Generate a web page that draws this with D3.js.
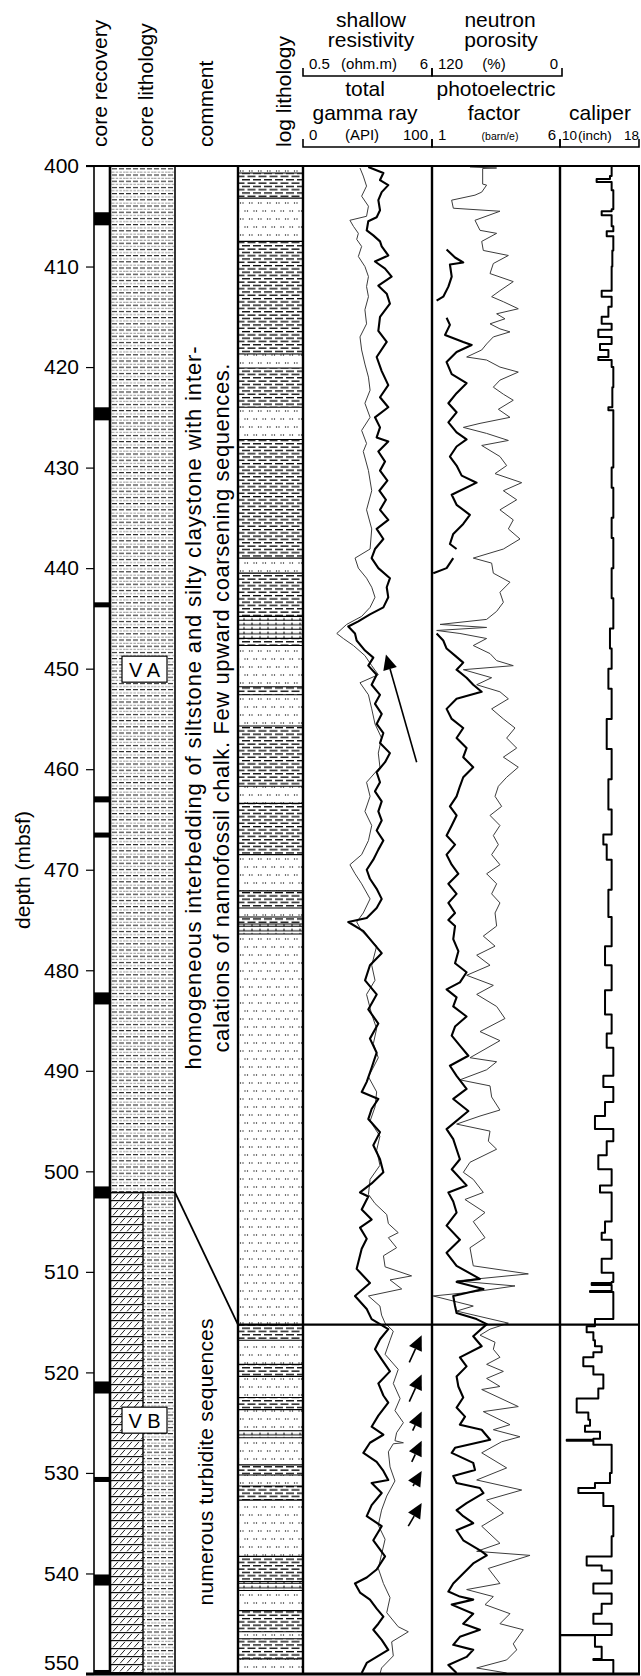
<!DOCTYPE html>
<html>
<head>
<meta charset="utf-8">
<script src="https://cdn.jsdelivr.net/npm/d3@7"></script>
<style>
  body { margin: 0; background: #fff; }
  svg { display: block; font-family: "Liberation Sans", Arial, Helvetica, sans-serif; }
</style>
</head>
<body>
<svg id="chart" width="641" height="1676"></svg>
<script>
// ---------------- data ----------------
const depthTicks = [400, 410, 420, 430, 440, 450, 460, 470, 480, 490, 500, 510, 520, 530, 540, 550];

// core breaks in the recovery column [top, base] (mbsf)
const coreBreaks = [[404.6, 405.9], [424.0, 425.3], [443.4, 443.9], [462.7, 463.3], [466.3, 466.8],
  [482.2, 483.4], [501.5, 502.7], [520.9, 522.1], [530.4, 530.9], [540.1, 541.2], [549.6, 550.0]];

// lithostratigraphic units
const unitNames = ["V A", "V B"];
const unitTops = [400, 502.1];
const unitBases = [502.1, 550];
const logUnitBoundary = 515.25;

// log-derived lithology beds [top, base, type]
const logBeds = [
  [400.0, 400.7, "silt"], [400.7, 403.2, "clay"], [403.2, 407.5, "silt"], [407.5, 418.7, "clay"],
  [418.7, 420.1, "silt"], [420.1, 424.0, "clay"], [424.0, 427.2, "silt"], [427.2, 439.0, "clay"],
  [439.0, 440.5, "silt"], [440.5, 444.8, "clay"], [444.8, 447.0, "chalk"], [447.0, 447.7, "clay"],
  [447.7, 451.8, "silt"], [451.8, 452.6, "clay"], [452.6, 455.7, "silt"], [455.7, 461.7, "clay"],
  [461.7, 463.4, "silt"], [463.4, 468.5, "clay"], [468.5, 472.1, "silt"], [472.1, 473.8, "clay"],
  [473.8, 474.7, "silt"], [474.7, 475.4, "clay"], [475.4, 476.4, "chalk"], [476.4, 515.25, "silt"],
  [515.25, 516.8, "clay"], [516.8, 519.2, "silt"], [519.2, 520.4, "clay"], [520.4, 522.5, "silt"],
  [522.5, 523.7, "clay"], [523.7, 525.8, "silt"], [525.8, 526.5, "chalk"], [526.5, 529.2, "silt"],
  [529.2, 530.2, "clay"], [530.2, 531.3, "silt"], [531.3, 532.7, "clay"], [532.7, 538.3, "silt"],
  [538.3, 540.8, "clay"], [540.8, 541.7, "chalk"], [541.7, 543.7, "silt"], [543.7, 545.8, "clay"],
  [545.8, 546.5, "silt"], [546.5, 548.5, "clay"], [548.5, 550.0, "silt"]
];

const commentVA = ["homogeneous interbedding of siltstone and silty claystone with inter-",
                   "calations of nannofossil chalk. Few upward coarsening sequences."];
const commentVB = "numerous turbidite sequences";

// total gamma ray [depth, API]
const gammaRay = [
  [400.1,50.6],[400.7,62.3],[401.4,59.7],[401.9,66.1],[402.6,61.0],[403.4,58.4],[404.4,59.7],[405.1,57.1],
  [405.5,50.6],[406.4,49.4],[406.9,54.5],[407.5,59.7],[408.0,61.0],[408.9,66.1],[409.5,55.8],[410.2,63.6],
  [411.0,68.7],[411.9,58.4],[412.7,64.9],[413.7,67.4],[415.0,59.7],[416.4,58.4],[417.5,64.9],[419.0,57.1],
  [420.4,61.0],[421.8,66.1],[423.0,59.7],[424.0,66.1],[425.0,55.8],[426.0,59.7],[427.0,57.1],[427.4,66.1],
  [428.4,58.4],[429.4,63.6],[430.3,59.7],[431.3,65.4],[432.3,59.2],[433.2,64.3],[434.2,59.7],[435.2,66.1],
  [436.1,57.1],[437.1,62.3],[438.1,55.8],[439.0,53.2],[440.0,58.4],[441.0,67.4],[441.9,64.9],[442.9,66.1],
  [443.9,62.3],[444.6,51.9],[445.3,42.9],[445.8,35.1],[446.5,40.3],[447.2,41.6],[448.2,48.1],[448.9,54.5],
  [449.7,50.6],[450.6,57.1],[451.6,53.2],[452.6,59.7],[453.5,55.8],[454.5,61.0],[455.5,57.1],[456.4,62.3],
  [457.4,59.7],[458.4,67.4],[459.3,63.6],[460.3,57.1],[461.3,59.7],[462.2,55.8],[463.2,61.0],[464.2,58.4],
  [465.1,61.0],[466.1,57.1],[467.1,62.3],[468.0,58.4],[469.0,54.5],[470.0,49.4],[470.9,51.9],[471.9,57.1],
  [472.9,61.0],[473.8,57.1],[474.8,49.4],[475.2,35.1],[476.1,46.8],[477.1,53.2],[478.3,61.0],[479.5,51.9],
  [481.0,48.1],[482.4,57.1],[483.9,50.6],[485.3,58.4],[486.8,51.9],[488.2,57.1],[489.7,53.2],[491.1,49.4],
  [492.1,45.5],[492.8,58.4],[493.8,53.2],[494.8,50.6],[496.1,59.7],[497.4,54.5],[498.8,59.7],[500.1,62.3],
  [501.2,53.2],[502.1,44.2],[502.5,50.6],[503.8,45.5],[504.8,53.2],[505.6,44.2],[506.7,49.4],[507.7,45.5],
  [509.7,41.6],[511.1,51.9],[512.4,40.3],[513.7,49.4],[514.7,53.2],[515.7,66.1],[516.7,59.7],[517.7,55.8],
  [518.7,61.0],[519.9,67.4],[521.1,58.4],[522.3,62.3],[523.0,66.1],[524.3,58.4],[525.4,53.2],[526.2,62.3],
  [527.0,51.9],[528.0,46.8],[528.9,57.1],[529.8,62.3],[530.7,66.1],[531.0,53.2],[532.0,61.0],[533.2,53.2],
  [534.3,49.4],[535.3,61.0],[536.7,54.5],[538.3,63.6],[539.6,57.1],[540.4,49.4],[541.0,40.3],[541.9,44.2],
  [542.6,51.9],[543.5,57.1],[544.3,62.3],[545.0,58.4],[545.6,54.5],[546.6,61.0],[547.6,66.1],[548.3,57.1],
  [548.9,49.4],[549.9,45.5]
];

// shallow resistivity [depth, ohm.m]
const shallowRes = [
  [400.2,2.93],[401.0,3.07],[402.0,3.21],[403.0,3.00],[404.0,3.29],[405.0,3.21],[405.4,2.50],[406.0,2.65],
  [406.7,2.86],[407.3,2.79],[408.0,3.00],[409.0,2.86],[410.0,3.14],[411.0,3.29],[412.0,3.21],[413.0,3.29],
  [414.3,3.14],[415.7,3.21],[417.0,2.93],[418.3,3.00],[419.7,3.14],[421.0,3.29],[422.3,3.36],[423.6,3.14],
  [425.0,3.36],[426.3,3.00],[427.6,3.21],[428.4,3.07],[430.3,3.29],[432.3,3.43],[434.2,3.21],[436.1,3.43],
  [438.1,3.36],[439.0,2.72],[440.0,2.86],[441.0,3.21],[441.9,3.43],[442.9,3.57],[443.9,3.36],[444.8,3.00],
  [445.6,2.36],[446.5,1.94],[447.0,2.22],[447.7,2.65],[448.7,3.14],[449.7,3.43],[450.6,3.71],[451.4,2.93],
  [452.6,3.29],[454.0,3.43],[455.5,3.57],[456.9,3.85],[458.4,3.71],[459.8,3.78],[461.3,3.21],[462.7,3.36],
  [464.2,3.14],[465.6,3.43],[467.1,3.29],[468.5,3.00],[469.5,2.50],[470.4,2.72],[471.4,3.00],[472.9,3.36],
  [474.3,3.07],[475.2,2.79],[476.1,3.00],[477.6,3.64],[479.5,3.43],[481.0,3.57],[482.4,3.21],[484.4,3.43],
  [485.8,3.64],[487.3,3.50],[488.7,3.71],[490.6,3.29],[492.1,3.64],[493.6,3.57],[495.0,3.36],[496.5,3.78],
  [497.9,3.64],[499.4,3.78],[500.8,3.36],[502.3,3.29],[503.2,3.57],[504.3,4.07],[505.2,4.14],[506.1,4.56],
  [506.6,4.14],[507.6,4.49],[508.4,3.93],[509.5,4.00],[510.4,5.13],[510.8,4.21],[511.7,4.71],[512.4,3.29],
  [513.4,3.78],[514.3,3.85],[515.1,4.00],[515.9,4.35],[516.8,4.21],[518.2,4.00],[519.7,4.56],[521.1,4.35],
  [522.6,4.64],[523.8,4.42],[525.0,4.78],[526.0,4.49],[526.8,4.42],[527.0,4.78],[527.1,4.35],[527.9,4.14],
  [529.4,4.21],[530.8,4.42],[532.3,4.07],[533.7,3.85],[535.2,3.71],[536.6,4.00],[538.1,3.85],[539.5,3.71],
  [541.0,3.93],[542.4,4.21],[543.9,4.07],[545.3,4.56],[545.8,4.99],[546.8,4.28],[548.2,4.35],[549.4,3.85],
  [550.0,3.78]
];

// photoelectric factor [depth, barn/e]; null marks a data gap
const photoFactor = [
  [408.3,1.57],[409.1,1.90],[409.6,2.22],[409.8,1.70],[411.0,1.77],[412.0,1.64],[413.0,1.44],[413.4,1.18],
  [414.2,null],
  [415.1,1.57],[415.8,1.70],[416.8,1.51],[417.5,2.22],[417.8,2.55],[418.5,1.96],[419.5,1.57],[420.7,1.77],
  [421.6,2.35],[422.6,1.96],[423.6,1.64],[424.5,1.96],[425.5,1.64],[426.5,1.96],[427.2,2.35],[427.9,1.96],
  [428.9,1.70],[429.8,1.96],[430.8,2.16],[431.5,2.74],[432.7,1.77],[433.7,1.96],[434.7,2.48],[435.6,2.22],
  [436.6,1.83],[437.6,1.70],[438.1,1.96],
  [438.5,null],
  [439.0,1.83],[440.0,1.57],[440.5,1.05],
  [443.0,null],
  [446.5,1.18],[447.2,1.44],[448.0,1.57],[448.7,1.90],[449.4,2.22],[450.1,1.96],[450.9,2.35],[451.6,2.61],
  [452.3,2.94],[453.0,1.96],[454.0,1.57],[455.0,1.77],[455.9,2.22],[456.9,1.96],[457.9,2.35],[458.8,2.22],
  [459.8,2.61],[460.8,2.22],[461.7,2.09],[462.7,1.96],[463.7,1.70],[464.6,1.96],[465.6,1.77],[466.6,1.57],
  [467.5,1.90],[468.5,1.57],[469.5,1.77],[470.4,2.03],[471.4,1.64],[472.4,1.96],[473.3,1.64],[474.3,1.90],
  [475.0,1.64],[475.6,1.90],[476.9,1.83],[478.1,2.03],[479.3,1.90],[480.2,2.35],[481.2,2.09],[481.9,1.57],
  [482.7,1.96],[483.6,1.83],[484.6,2.35],[485.6,1.90],[486.5,1.77],[487.5,2.09],[488.5,2.42],[489.5,1.70],
  [490.5,1.96],[491.8,2.35],[492.8,1.83],[494.0,2.42],[495.8,1.57],[496.8,1.83],[497.8,1.96],[498.8,2.09],
  [499.8,1.77],[501.4,2.35],[502.1,1.64],[503.0,1.83],[504.1,1.96],[505.4,1.57],[506.8,2.09],[508.1,1.57],
  [509.4,1.96],[510.7,2.87],[511.0,1.96],[511.7,3.01],[512.4,1.83],[513.4,1.90],[514.1,1.96],[514.7,2.74],
  [515.2,3.14],[516.4,2.61],[517.4,2.94],[518.5,2.09],[519.4,2.35],[520.4,1.96],[521.4,2.03],[522.5,2.22],
  [523.5,1.96],[524.4,2.29],[525.2,2.09],[525.7,2.94],[526.7,3.27],[527.5,1.90],[528.0,1.77],[529.0,2.61],
  [529.7,2.68],[530.3,1.83],[531.0,1.96],[531.5,2.87],[532.0,3.01],[533.0,2.35],[533.7,1.96],[534.3,2.22],
  [535.0,2.61],[535.7,1.96],[536.7,2.22],[537.8,2.94],[538.2,3.14],[539.0,2.61],[540.0,2.22],[541.0,1.83],
  [541.8,1.64],[542.3,2.09],[542.6,2.61],[543.1,1.77],[544.0,2.61],[545.0,2.22],[545.6,2.87],[546.3,2.09],
  [547.1,1.83],[547.6,2.61],[548.3,2.35],[549.1,1.64],[549.9,1.96]
];

// neutron porosity [depth, %]
const neutronPorosity = [
  [400.1,84.4],[400.2,59.4],[400.25,72.5],[401.8,72.5],[401.9,68.8],[402.6,73.4],[402.9,79.7],[403.4,101.6],
  [404.2,100.0],[404.5,56.3],[405.4,79.7],[406.4,75.0],[406.7,59.4],[407.5,73.4],[408.4,71.9],[408.9,48.4],
  [409.7,62.5],[410.7,65.6],[411.5,43.8],[412.4,56.3],[413.0,64.1],[413.5,53.1],[414.2,39.1],[414.7,59.4],
  [415.2,51.6],[415.7,65.6],[416.2,56.3],[416.5,46.9],[417.0,62.5],[417.7,68.8],[418.3,73.4],[419.0,87.5],
  [419.3,68.8],[420.0,56.3],[420.5,39.1],[421.3,56.3],[422.0,62.5],[422.7,53.1],[423.3,43.8],[424.2,57.8],
  [425.0,46.9],[425.6,75.0],[426.0,90.6],[426.6,68.8],[427.3,48.4],[427.8,73.4],[428.9,56.3],[429.8,50.0],
  [430.6,60.9],[431.5,35.9],[432.3,53.1],[433.2,40.6],[434.2,56.3],[435.2,43.8],[436.1,48.4],[437.1,37.5],
  [438.1,53.1],[439.0,81.3],[439.5,64.1],[440.5,62.5],[441.4,46.9],[442.4,56.3],[443.4,53.1],[444.3,59.4],
  [445.1,68.8],[445.6,112.5],[445.9,68.8],[446.2,115.6],[446.5,93.8],[447.0,68.8],[447.7,81.3],[448.5,65.6],
  [449.2,59.4],[449.7,43.8],[450.1,90.6],[450.9,64.1],[451.6,78.1],[452.3,56.3],[453.0,48.4],[454.0,64.1],
  [455.0,53.1],[455.9,42.2],[456.9,50.0],[457.9,40.6],[458.8,53.1],[459.8,39.1],[460.8,50.0],[461.7,57.8],
  [462.7,60.9],[463.7,54.7],[464.6,65.6],[465.6,56.3],[466.6,62.5],[467.5,57.8],[468.5,64.1],[469.5,56.3],
  [470.4,68.8],[471.4,59.4],[472.4,64.1],[473.3,56.3],[474.3,60.9],[475.6,59.4],[476.6,71.9],[477.6,60.9],
  [478.5,78.1],[479.5,65.6],[480.5,87.5],[481.5,62.5],[482.4,78.1],[483.6,59.4],[484.8,51.6],[486.1,75.0],
  [487.0,56.3],[488.7,84.4],[489.1,59.4],[489.9,68.8],[490.9,93.8],[491.5,65.6],[492.6,64.1],[493.9,56.3],
  [494.5,75.0],[495.3,96.9],[496.0,65.6],[497.0,67.2],[497.8,59.4],[499.1,84.4],[500.1,90.6],[500.8,81.3],
  [502.1,71.9],[502.8,89.1],[504.1,70.3],[505.0,81.3],[506.6,70.3],[507.6,84.4],[509.4,81.3],[510.2,29.7],
  [510.9,96.9],[511.4,42.2],[512.0,81.3],[512.4,118.8],[513.4,81.3],[513.9,96.9],[515.1,48.4],[515.7,65.6],
  [516.3,75.0],[517.0,60.9],[517.7,62.5],[518.5,56.3],[519.2,68.8],[519.9,53.1],[520.6,68.8],[521.4,56.3],
  [521.7,73.4],[523.4,39.1],[523.9,71.9],[525.2,46.9],[525.7,62.5],[526.4,37.5],[526.9,54.7],[528.0,73.4],
  [529.5,50.0],[530.7,78.1],[531.7,35.9],[532.7,68.8],[534.0,53.1],[535.3,73.4],[537.0,56.3],[537.8,78.1],
  [538.2,28.1],[539.5,67.2],[541.0,56.3],[541.6,87.5],[542.3,62.5],[543.1,70.3],[544.0,46.9],[545.0,56.3],
  [545.6,34.4],[547.0,43.8],[547.6,40.6],[548.6,50.0],[549.4,78.1],[549.9,50.0]
];

// caliper [depth, inch]
const caliper = [
  [400.1,15.23],[401.0,15.06],[401.3,13.71],[401.6,15.23],[402.4,15.40],[404.3,15.23],[404.5,14.22],[404.9,15.23],
  [406.0,15.40],[406.5,14.73],[407.0,15.40],[408.4,15.30],[410.0,15.23],[411.7,15.23],[412.4,14.22],[413.0,15.23],
  [414.0,14.90],[415.0,14.22],[415.7,15.23],[416.3,13.88],[417.0,15.23],[417.7,14.05],[418.3,14.90],[419.0,13.88],
  [419.3,15.23],[420.0,15.40],[422.0,15.30],[424.0,14.90],[424.3,15.40],[427.0,15.40],[430.0,15.23],[432.0,15.40],
  [435.0,15.23],[437.0,15.40],[440.0,15.23],[443.0,15.40],[446.0,15.06],[448.0,15.23],[450.0,14.90],[452.0,15.23],
  [455.0,14.73],[458.0,15.23],[461.0,14.90],[464.0,15.23],[466.5,14.39],[467.5,14.73],[469.0,15.23],[472.0,14.90],
  [474.7,15.23],[477.6,14.56],[479.5,15.23],[482.0,14.56],[484.4,15.23],[486.3,14.73],[487.7,15.40],[490.5,14.39],
  [491.6,15.40],[493.1,14.56],[494.5,13.54],[495.8,15.40],[497.0,14.73],[498.4,13.88],[499.8,15.23],[501.4,14.05],
  [502.1,15.23],[504.1,15.23],[505.0,14.56],[506.1,14.22],[506.8,15.23],[508.7,14.22],[510.1,15.40],[511.0,15.23],
  [511.1,13.21],[511.3,15.23],[511.9,13.04],[512.0,15.40],[514.1,15.40],[514.7,13.54],[515.4,12.70],[516.0,13.38],
  [516.8,13.54],[517.4,14.22],[518.0,13.38],[518.5,12.36],[519.4,13.38],[520.2,14.39],[521.6,13.88],[522.6,11.69],
  [524.0,12.87],[524.7,13.04],[525.3,12.53],[525.9,14.05],[526.6,13.38],[526.7,10.68],[526.8,13.38],[527.2,15.23],
  [530.0,15.06],[531.0,13.54],[531.5,11.86],[532.0,14.39],[533.3,15.40],[536.3,15.23],[538.3,12.70],[539.2,14.22],
  [539.7,15.23],[541.0,13.38],[542.0,15.23],[543.0,14.22],[544.0,13.38],[545.0,15.23],[546.1,15.23],[546.12,10.0],
  [546.14,13.54],[547.3,14.22],[548.5,13.38],[548.6,15.40],[550.0,15.40]
];

// upward-coarsening trend arrows [depth tail, API tail, depth tip, API tip]
const trendArrows = [
  [459.3, 88.1, 448.6, 64.3],
  [519.0, 82.4, 516.3, 92.0],
  [522.9, 82.4, 520.2, 92.0],
  [525.8, 85.0, 523.9, 92.0],
  [528.9, 84.3, 526.8, 92.0],
  [531.3, 85.3, 529.8, 92.0],
  [535.3, 81.6, 533.0, 92.0]
];

// ---------------- layout ----------------
const svg = d3.select("#chart");
const FONT = 21;
const X = { axis: 94, recR: 110, litMid: 143, litR: 175, logL: 238, logR: 303, t1R: 432, t2R: 560, t3R: 639 };

const y = d3.scaleLinear().domain([400, 550]).range([166, 1674]);
const xGR = d3.scaleLinear().domain([0, 100]).range([X.logR, X.t1R]);
const xRes = d3.scaleLinear().domain([0.5, 6]).range([X.logR, X.t1R]);
const xPEF = d3.scaleLinear().domain([1, 6]).range([X.t1R, X.t2R]);
const xNPHI = d3.scaleLinear().domain([120, 0]).range([X.t1R, X.t2R]);
const xCAL = d3.scaleLinear().domain([10, 18]).range([X.t2R, X.t3R]);

// ---------------- patterns ----------------
const defs = svg.append("defs");

// core silty claystone: grey dashed rows
const pSilt = defs.append("pattern").attr("id", "coreSilt").attr("patternUnits", "userSpaceOnUse")
  .attr("width", 14).attr("height", 6.2);
pSilt.append("rect").attr("width", 14).attr("height", 6.2).attr("fill", "#fff");
pSilt.append("line").attr("x1", 0).attr("x2", 14).attr("y1", 1.5).attr("y2", 1.5)
  .attr("stroke", "#2a2a2a").attr("stroke-width", 1.1).attr("stroke-dasharray", "5,2");
pSilt.append("line").attr("x1", 0).attr("x2", 14).attr("y1", 4.6).attr("y2", 4.6)
  .attr("stroke", "#8a8a8a").attr("stroke-width", 0.9).attr("stroke-dasharray", "2.5,1.2");

// nannofossil chalk: brick rows with slashes
const pChalk = defs.append("pattern").attr("id", "coreChalk").attr("patternUnits", "userSpaceOnUse")
  .attr("width", 7).attr("height", 8);
pChalk.append("rect").attr("width", 7).attr("height", 8).attr("fill", "#fff");
pChalk.append("line").attr("x1", 0).attr("x2", 7).attr("y1", 0.6).attr("y2", 0.6)
  .attr("stroke", "#111").attr("stroke-width", 1.2);
pChalk.append("line").attr("x1", 1).attr("x2", 6).attr("y1", 7.4).attr("y2", 1.8)
  .attr("stroke", "#222").attr("stroke-width", 1);

// log claystone: black dashes
const pClay = defs.append("pattern").attr("id", "logClay").attr("patternUnits", "userSpaceOnUse")
  .attr("width", 11).attr("height", 6.6);
pClay.append("rect").attr("width", 11).attr("height", 6.6).attr("fill", "#fff");
pClay.append("line").attr("x1", 0).attr("x2", 8).attr("y1", 1.6).attr("y2", 1.6)
  .attr("stroke", "#000").attr("stroke-width", 1.3);
pClay.append("line").attr("x1", 5.5).attr("x2", 11).attr("y1", 4.9).attr("y2", 4.9)
  .attr("stroke", "#000").attr("stroke-width", 1.3);
pClay.append("line").attr("x1", 0).attr("x2", 2.5).attr("y1", 4.9).attr("y2", 4.9)
  .attr("stroke", "#000").attr("stroke-width", 1.3);

// log siltstone: paired dots
const pDots = defs.append("pattern").attr("id", "logSilt").attr("patternUnits", "userSpaceOnUse")
  .attr("width", 18).attr("height", 16);
pDots.append("rect").attr("width", 18).attr("height", 16).attr("fill", "#fff");
[[2, 3], [4.5, 3], [11, 3], [13.5, 3], [6.5, 11], [9, 11], [15.5, 11], [18, 11], [0, 11]].forEach(p =>
  pDots.append("circle").attr("cx", p[0]).attr("cy", p[1]).attr("r", 0.7).attr("fill", "#222"));

// log chalky layers: ruled ticks
const pTick = defs.append("pattern").attr("id", "logChalk").attr("patternUnits", "userSpaceOnUse")
  .attr("width", 8).attr("height", 4.5);
pTick.append("rect").attr("width", 8).attr("height", 4.5).attr("fill", "#fff");
pTick.append("line").attr("x1", 0).attr("x2", 8).attr("y1", 3.8).attr("y2", 3.8)
  .attr("stroke", "#000").attr("stroke-width", 1);
pTick.append("line").attr("x1", 4).attr("x2", 4).attr("y1", 1.5).attr("y2", 3.8)
  .attr("stroke", "#000").attr("stroke-width", 1);

// clip paths for the log tracks
[["clipT1", X.logR, X.t1R], ["clipT2", X.t1R, X.t2R], ["clipT3", X.t2R, X.t3R]].forEach(c => {
  defs.append("clipPath").attr("id", c[0]).append("rect")
    .attr("x", c[1]).attr("y", y(400)).attr("width", c[2] - c[1]).attr("height", y(550) - y(400));
});

// ---------------- header ----------------
const head = svg.append("g").attr("font-size", FONT).attr("fill", "#000");
[["core recovery", 107], ["core lithology", 153], ["comment", 213], ["log lithology", 291]].forEach(h => {
  head.append("text").attr("transform", `translate(${h[1]},147) rotate(-90)`)
    .attr("text-anchor", "start").text(h[0]);
});

function centered(txt, x, yy, size) {
  head.append("text").attr("x", x).attr("y", yy).attr("text-anchor", "middle")
    .attr("font-size", size || FONT).text(txt);
}
centered("shallow", 371, 27);
centered("resistivity", 371, 47);
centered("neutron", 500, 27);
centered("porosity", 501, 47);
centered("total", 365, 96);
centered("gamma ray", 365, 120);
centered("photoelectric", 496, 96);
centered("factor", 494, 120);
centered("caliper", 600, 120);

function scaleBar(x0, x1, yy, left, unit, right, sizes, unitX, pad) {
  head.append("path")
    .attr("d", `M${x0},${yy - 8}V${yy}H${x1}V${yy - 8}`)
    .attr("fill", "none").attr("stroke", "#000").attr("stroke-width", 1.6);
  head.append("text").attr("x", x0 + pad).attr("y", yy - 7).attr("font-size", sizes[0]).text(left);
  head.append("text").attr("x", unitX).attr("y", yy - 7).attr("font-size", sizes[1])
    .attr("text-anchor", "middle").text(unit);
  head.append("text").attr("x", x1 - pad + 2).attr("y", yy - 7).attr("font-size", sizes[0])
    .attr("text-anchor", "end").text(right);
}
scaleBar(X.logR, X.t1R, 76, "0.5", "(ohm.m)", "6", [15, 15], 369, 6);
scaleBar(X.t1R, 562, 76, "120", "(%)", "0", [15, 15], 494, 6);
scaleBar(X.logR, X.t1R, 147, "0", "(API)", "100", [15, 15], 362, 6);
scaleBar(X.t1R, X.t2R, 147, "1", "(barn/e)", "6", [15, 10.5], 500, 6);
scaleBar(X.t2R, X.t3R, 147, "10", "(inch)", "18", [13.5, 13.5], 595, 2);

// ---------------- depth axis ----------------
const axisG = svg.append("g").attr("transform", `translate(${X.axis},0)`)
  .call(d3.axisLeft(y).tickValues(depthTicks).tickSize(8).tickPadding(7).tickFormat(d3.format("d")));
axisG.select(".domain").remove();
axisG.selectAll(".tick line").attr("stroke", "#000").attr("stroke-width", 1.2);
axisG.selectAll(".tick text").attr("font-size", FONT).attr("font-family", "Liberation Sans, Arial, sans-serif")
  .attr("fill", "#000");
// keep the deepest label inside the page
axisG.selectAll(".tick text").filter(d => d === 550).attr("dy", "-0.22em");

svg.append("text").attr("transform", `translate(30,870) rotate(-90)`)
  .attr("text-anchor", "middle").attr("font-size", 21).text("depth (mbsf)");

// ---------------- core recovery ----------------
svg.append("g").selectAll("rect").data(coreBreaks).join("rect")
  .attr("x", X.axis).attr("width", X.recR - X.axis)
  .attr("y", d => y(d[0])).attr("height", d => y(d[1]) - y(d[0]))
  .attr("fill", "#000");

// ---------------- core lithology ----------------
const lit = svg.append("g");
lit.append("rect").attr("x", X.recR).attr("width", X.litR - X.recR)
  .attr("y", y(unitTops[0])).attr("height", y(unitBases[0]) - y(unitTops[0])).attr("fill", "url(#coreSilt)");
lit.append("rect").attr("x", X.recR).attr("width", X.litMid - X.recR)
  .attr("y", y(unitTops[1])).attr("height", y(unitBases[1]) - y(unitTops[1])).attr("fill", "url(#coreChalk)");
lit.append("rect").attr("x", X.litMid).attr("width", X.litR - X.litMid)
  .attr("y", y(unitTops[1])).attr("height", y(unitBases[1]) - y(unitTops[1])).attr("fill", "url(#coreSilt)");
lit.append("line").attr("x1", X.recR).attr("x2", X.litR).attr("y1", y(unitTops[1])).attr("y2", y(unitTops[1]))
  .attr("stroke", "#000").attr("stroke-width", 1.6);
lit.append("line").attr("x1", X.litMid).attr("x2", X.litMid).attr("y1", y(unitTops[1])).attr("y2", y(550))
  .attr("stroke", "#000").attr("stroke-width", 1.4);

// unit labels
const unitLabelDepth = [450.05, 524.75];
unitNames.forEach((n, i) => {
  const cy = y(unitLabelDepth[i]);
  lit.append("rect").attr("x", 122).attr("y", cy - 13).attr("width", 45).attr("height", 26)
    .attr("fill", "#fff").attr("stroke", "#000").attr("stroke-width", 1.2);
  lit.append("text").attr("x", 144.5).attr("y", cy + 7.5).attr("text-anchor", "middle")
    .attr("font-size", 20).text(n);
});

// ---------------- comments ----------------
const com = svg.append("g").attr("font-size", 22);
com.append("text").attr("transform", `translate(201,708) rotate(-90)`).attr("text-anchor", "middle")
  .attr("textLength", 723).attr("lengthAdjust", "spacing").text(commentVA[0]);
com.append("text").attr("transform", `translate(229,708) rotate(-90)`).attr("text-anchor", "middle")
  .attr("textLength", 689).attr("lengthAdjust", "spacing").text(commentVA[1]);
com.append("text").attr("transform", `translate(213,1462) rotate(-90)`).attr("text-anchor", "middle")
  .attr("font-size", 21).attr("textLength", 287).attr("lengthAdjust", "spacing").text(commentVB);

// ---------------- log lithology ----------------
const fills = { clay: "url(#logClay)", silt: "url(#logSilt)", chalk: "url(#logChalk)" };
const logG = svg.append("g");
logG.selectAll("rect").data(logBeds).join("rect")
  .attr("x", X.logL).attr("width", X.logR - X.logL)
  .attr("y", d => y(d[0])).attr("height", d => y(d[1]) - y(d[0]))
  .attr("fill", d => fills[d[2]]);
logG.selectAll("line").data(logBeds.slice(1)).join("line")
  .attr("x1", X.logL).attr("x2", X.logR).attr("y1", d => y(d[0])).attr("y2", d => y(d[0]))
  .attr("stroke", "#000").attr("stroke-width", 1.1);

// ---------------- log curves ----------------
function curve(data, xs, clip, width, color, curveType) {
  const line = d3.line().defined(d => d[1] !== null)
    .x(d => xs(d[1])).y(d => y(d[0])).curve(curveType || d3.curveLinear);
  svg.append("path").attr("d", line(data)).attr("clip-path", `url(#${clip})`)
    .attr("fill", "none").attr("stroke", color).attr("stroke-width", width)
    .attr("stroke-linejoin", "round");
}
curve(shallowRes, xRes, "clipT1", 1, "#3c3c3c");
curve(gammaRay, xGR, "clipT1", 2.1, "#000");
curve(neutronPorosity, xNPHI, "clipT2", 1, "#3c3c3c");
curve(photoFactor, xPEF, "clipT2", 2.1, "#000");
curve(caliper, xCAL, "clipT3", 2, "#000", d3.curveStepBefore);

// trend arrows
const arrG = svg.append("g");
trendArrows.forEach(a => {
  const x0 = xGR(a[1]), y0 = y(a[0]), x1 = xGR(a[3]), y1 = y(a[2]);
  const ang = Math.atan2(y1 - y0, x1 - x0);
  const L = 15, W = 7;
  const bx = x1 - L * Math.cos(ang), by = y1 - L * Math.sin(ang);
  arrG.append("line").attr("x1", x0).attr("y1", y0).attr("x2", bx).attr("y2", by)
    .attr("stroke", "#000").attr("stroke-width", 1.6);
  const px = -Math.sin(ang) * W, py = Math.cos(ang) * W;
  arrG.append("path").attr("d", `M${x1},${y1}L${bx + px},${by + py}L${bx - px},${by - py}Z`).attr("fill", "#000");
});

// ---------------- frame ----------------
const frame = svg.append("g").attr("stroke", "#000").attr("fill", "none");
function vline(x, w) {
  frame.append("line").attr("x1", x).attr("x2", x).attr("y1", y(400)).attr("y2", y(550)).attr("stroke-width", w);
}
vline(X.axis, 1.6);
vline(X.recR, 2.6);
vline(X.litR, 1.6);
vline(X.logL, 2.4);
vline(X.logR, 2.4);
vline(X.t1R, 2.4);
vline(X.t2R, 2.4);
vline(X.t3R, 2);
frame.append("line").attr("x1", 86).attr("x2", X.t3R + 1).attr("y1", y(400)).attr("y2", y(400)).attr("stroke-width", 2);
frame.append("line").attr("x1", 86).attr("x2", X.t3R + 1).attr("y1", y(550)).attr("y2", y(550)).attr("stroke-width", 3);
frame.append("line").attr("x1", X.logL).attr("x2", X.t3R).attr("y1", y(logUnitBoundary)).attr("y2", y(logUnitBoundary))
  .attr("stroke-width", 2.2);
frame.append("line").attr("x1", X.litR).attr("y1", y(unitBases[0]))
  .attr("x2", X.logL).attr("y2", y(logUnitBoundary)).attr("stroke-width", 1.8);
</script>
</body>
</html>
